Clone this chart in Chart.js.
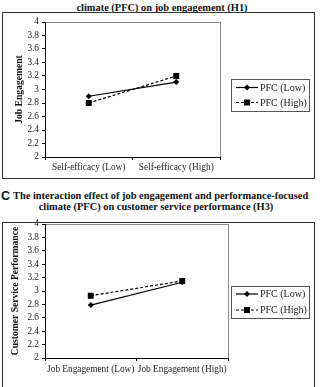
<!DOCTYPE html>
<html>
<head>
<meta charset="utf-8">
<script src="https://cdn.jsdelivr.net/npm/chart.js@4.4.1/dist/chart.umd.min.js"></script>
<style>
  html, body { margin: 0; padding: 0; background: #fff; overflow: hidden; }
  body { width: 321px; height: 387px; position: relative; }
  canvas { position: absolute; left: 0; top: 0; }
  .frame { position: absolute; border: 1px solid #333; box-sizing: border-box; }
  .title { position: absolute; font: bold 10.4px "Liberation Serif", serif; color: #111; white-space: nowrap; line-height: 12px; }
  .panel { position: absolute; font: bold 12.5px "Liberation Sans", sans-serif; color: #111; line-height: 14px; }
</style>
</head>
<body>
<div class="title" style="left:0; width:324px; text-align:center; top:1.5px;">climate (PFC) on job engagement (H1)</div>
<div class="frame" style="left:2px; top:12px; width:313px; height:167px;"></div>

<div class="panel" style="left:1px; top:189px;">C</div>
<div class="title" style="left:13px; top:190px;">The interaction effect of job engagement and performance-focused</div>
<div class="title" style="left:0; width:312px; text-align:center; top:201px;">climate (PFC) on customer service performance (H3)</div>
<div class="frame" style="left:2px; top:222px; width:313px; height:200px;"></div>

<canvas id="chartTop" width="321" height="387"></canvas>
<canvas id="chartBottom" width="321" height="387"></canvas>

<script>
// DATA
const seriesNames = ["PFC (Low)", "PFC (High)"];

const topCategories = ["Self-efficacy (Low)", "Self-efficacy (High)"];
const topPfcLow = [2.9, 3.11];
const topPfcHigh = [2.8, 3.2];

const bottomCategories = ["Job Engagement (Low)", "Job Engagement (High)"];
const bottomPfcLow = [2.79, 3.13];
const bottomPfcHigh = [2.93, 3.15];

const yMin = 2;
const yMax = 4;
const yStep = 0.2;

const SERIF = "'Liberation Serif', 'Times New Roman', serif";

// grey plot border (top/right), axes draw black over it
const plotBorder = {
    id: "plotBorder",
    beforeDraw(chart) {
        const a = chart.chartArea;
        const ctx = chart.ctx;
        ctx.save();
        ctx.strokeStyle = "#8a8a8a";
        ctx.lineWidth = 1;
        ctx.strokeRect(Math.round(a.left) + 0.5, Math.round(a.top) + 0.5,
            Math.round(a.right - a.left), Math.round(a.bottom - a.top));
        ctx.restore();
    }
};

function drawMarker(ctx, style, x, y, r) {
    ctx.beginPath();
    if (style === "rect") {
        const s = Math.SQRT1_2 * r;
        ctx.rect(x - s, y - s, s * 2, s * 2);
    } else {
        ctx.moveTo(x, y - r);
        ctx.lineTo(x + r, y);
        ctx.lineTo(x, y + r);
        ctx.lineTo(x - r, y);
        ctx.closePath();
    }
    ctx.fill();
}

// boxed legend at the right of the plot
const boxLegend = {
    id: "boxLegend",
    afterDraw(chart, args, opts) {
        const ctx = chart.ctx;
        ctx.save();
        ctx.strokeStyle = "#555";
        ctx.lineWidth = 1;
        ctx.strokeRect(opts.x + 0.5, opts.y + 0.5, opts.w, opts.h);
        chart.data.datasets.forEach((ds, i) => {
            const ry = opts.y + opts.rows[i];
            ctx.strokeStyle = ds.borderColor;
            ctx.lineWidth = ds.borderWidth;
            ctx.setLineDash(ds.borderDash || []);
            ctx.beginPath();
            ctx.moveTo(opts.x + 5, ry);
            ctx.lineTo(opts.x + 27, ry);
            ctx.stroke();
            ctx.setLineDash([]);
            ctx.fillStyle = ds.pointBackgroundColor;
            drawMarker(ctx, ds.pointStyle, opts.x + 16, ry, ds.pointRadius);
            ctx.fillStyle = "#222";
            ctx.font = "10px " + SERIF;
            ctx.textBaseline = "middle";
            ctx.fillText(ds.label, opts.x + 29, ry + 0.5);
        });
        ctx.restore();
    }
};

function makeChart(id, categories, lowVals, highVals, yTitle, cfg) {
    const ctx = document.getElementById(id).getContext("2d");
    return new Chart(ctx, {
        type: "line",
        data: {
            labels: categories,
            datasets: [
                {
                    label: seriesNames[0],
                    data: lowVals,
                    borderColor: "#000",
                    borderWidth: 1.2,
                    pointStyle: "rectRot",
                    pointRadius: 3,
                    pointBackgroundColor: "#000",
                    pointBorderWidth: 0,
                    tension: 0
                },
                {
                    label: seriesNames[1],
                    data: highVals,
                    borderColor: "#000",
                    borderWidth: 1.2,
                    borderDash: [3, 2],
                    pointStyle: "rect",
                    pointRadius: 4.2,
                    pointBackgroundColor: "#000",
                    pointBorderWidth: 0,
                    tension: 0
                }
            ]
        },
        options: {
            responsive: false,
            animation: false,
            events: [],
            layout: { padding: cfg.padding },
            plugins: {
                legend: { display: false },
                tooltip: { enabled: false },
                boxLegend: cfg.legend
            },
            scales: {
                x: {
                    offset: true,
                    grid: { offset: true, drawOnChartArea: false, color: "#000", tickLength: 3 },
                    border: { color: "#000", width: 1 },
                    ticks: { color: "#222", font: { family: SERIF, size: 9.3 }, padding: cfg.xPad, maxRotation: 0, autoSkip: false },
                    afterFit(scale) { scale.height = cfg.xHeight; }
                },
                y: {
                    min: yMin,
                    max: yMax,
                    grid: { drawOnChartArea: false, color: "#000", tickLength: 3 },
                    border: { color: "#000", width: 1 },
                    ticks: {
                        stepSize: yStep,
                        autoSkip: false,
                        color: "#222",
                        font: { family: SERIF, size: 9.3 },
                        padding: 3,
                        callback: v => String(+v.toFixed(1))
                    },
                    title: {
                        display: true,
                        text: yTitle,
                        color: "#111",
                        font: { family: SERIF, size: 9.6, weight: "bold" },
                        padding: { top: cfg.titlePad, bottom: 0 }
                    },
                    afterFit(scale) { scale.width = 45; }
                }
            }
        },
        plugins: [plotBorder, boxLegend]
    });
}

makeChart("chartTop", topCategories, topPfcLow, topPfcHigh, "Job Engagement", {
    padding: { left: 0, right: 101, top: 22, bottom: 205 },
    xHeight: 25,
    xPad: 2,
    titlePad: 14,
    legend: { x: 231, y: 79, w: 78, h: 32, rows: [8.5, 23.5] }
});

makeChart("chartBottom", bottomCategories, bottomPfcLow, bottomPfcHigh, "Customer Service Performance", {
    padding: { left: 0, right: 93, top: 224, bottom: 0 },
    xHeight: 29,
    xPad: 3,
    titlePad: 10,
    legend: { x: 231, y: 286, w: 78, h: 32, rows: [8, 24] }
});
</script>
</body>
</html>
